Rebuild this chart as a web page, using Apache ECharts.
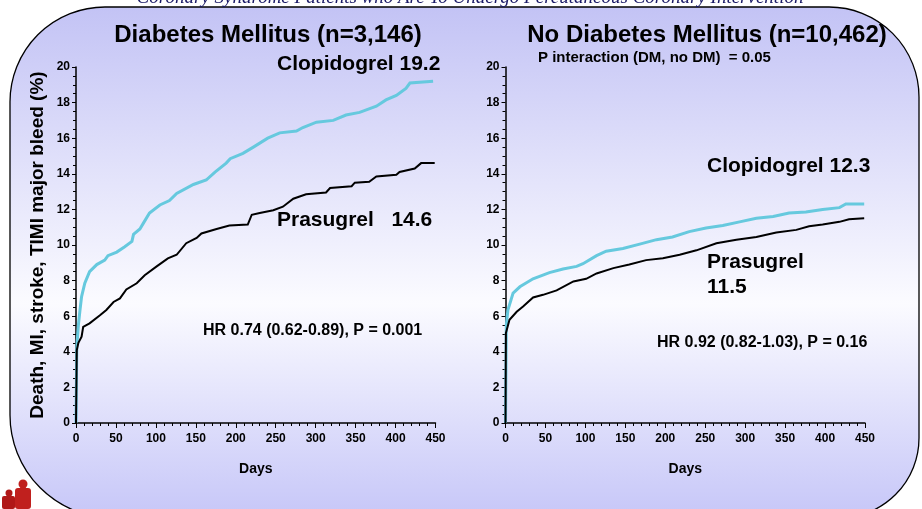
<!DOCTYPE html>
<html>
<head>
<meta charset="utf-8">
<script src="https://cdn.jsdelivr.net/npm/echarts@6/dist/echarts.min.js"></script>
<style>
  html, body { margin: 0; padding: 0; background: #ffffff; }
  #chart { width: 922px; height: 509px; }
</style>
</head>
<body>
<div id="chart"></div>
<script>
// Kaplan-Meier curves: death, MI, stroke, TIMI major bleed (%) by day
const dmClopDays = [0, 1, 3, 5, 7, 11, 17, 26, 36, 40, 51, 61, 70, 72, 80, 84, 92, 105, 117, 126, 147, 163, 174, 188, 193, 209, 222, 240, 255, 276, 284, 301, 322, 338, 355, 376, 388, 401, 413, 418, 447];
const dmClopVals = [0, 4.3, 5.5, 6.35, 7.1, 7.85, 8.5, 8.9, 9.15, 9.4, 9.6, 9.9, 10.2, 10.6, 10.9, 11.2, 11.8, 12.25, 12.5, 12.9, 13.4, 13.65, 14.1, 14.6, 14.85, 15.15, 15.5, 16.0, 16.3, 16.4, 16.6, 16.9, 17.0, 17.3, 17.45, 17.8, 18.15, 18.4, 18.8, 19.1, 19.2];

const dmPrasDays = [0, 1, 3, 7, 9, 17, 30, 38, 47, 55, 63, 76, 86, 101, 115, 126, 138, 151, 157, 176, 192, 215, 220, 230, 247, 259, 272, 288, 313, 318, 345, 349, 367, 376, 401, 405, 424, 432, 449];
const dmPrasVals = [0, 4.1, 4.5, 4.85, 5.4, 5.6, 6.05, 6.35, 6.8, 7.0, 7.5, 7.85, 8.3, 8.8, 9.25, 9.45, 10.1, 10.4, 10.65, 10.9, 11.1, 11.15, 11.7, 11.8, 11.95, 12.15, 12.6, 12.85, 12.95, 13.2, 13.3, 13.5, 13.55, 13.85, 13.95, 14.1, 14.3, 14.6, 14.6];

const noDmClopDays = [0, 1, 3, 9.5, 18, 34.5, 55, 72, 89, 97, 114, 126, 147, 168, 189, 209, 230, 251, 272, 293, 314, 335, 355, 376, 397, 418, 426, 449];
const noDmClopVals = [0, 5.5, 6.35, 7.3, 7.65, 8.1, 8.45, 8.65, 8.8, 8.95, 9.4, 9.65, 9.8, 10.05, 10.3, 10.45, 10.75, 10.95, 11.1, 11.3, 11.5, 11.6, 11.8, 11.85, 12.0, 12.1, 12.3, 12.3];

const noDmPrasDays = [0, 0.5, 5, 14, 22, 34.5, 47, 64, 85, 101, 114, 135, 155, 176, 197, 218, 239, 264, 289, 314, 339, 364, 380, 397, 418, 430, 449];
const noDmPrasVals = [0, 5.05, 5.8, 6.25, 6.55, 7.05, 7.2, 7.45, 7.95, 8.1, 8.4, 8.7, 8.9, 9.15, 9.25, 9.45, 9.7, 10.1, 10.3, 10.45, 10.7, 10.85, 11.05, 11.15, 11.3, 11.45, 11.5];

const panelTitles = ['Diabetes Mellitus (n=3,146)', 'No Diabetes Mellitus (n=10,462)'];
const yAxisTitle = 'Death, MI, stroke, TIMI major bleed (%)';
const xAxisTitle = 'Days';

const zip = (xs, ys) => xs.map((x, i) => [x, ys[i]]);

const CLOP = '#66c9de';
const PRAS = '#000000';
const FONT = 'Liberation Sans, Arial, sans-serif';

const grids = [
  { left: 76, top: 67, width: 359.5, height: 356 },
  { left: 505.5, top: 67, width: 359.5, height: 356 }
];

function xAxisFor(i) {
  return {
    gridIndex: i, type: 'value', min: 0, max: 450, interval: 50,
    name: xAxisTitle, nameLocation: 'middle', nameGap: 39,
    nameTextStyle: { fontFamily: FONT, fontWeight: 'bold', fontSize: 14, color: '#000' },
    axisLine: { lineStyle: { color: '#000', width: 1.5 } },
    axisTick: { inside: false, length: 5, lineStyle: { color: '#000', width: 1 } },
    minorTick: { show: true, splitNumber: 5, length: 3, lineStyle: { color: '#000', width: 1 } },
    splitLine: { show: false },
    axisLabel: { fontFamily: FONT, fontWeight: 'bold', fontSize: 12, color: '#000', margin: 10 }
  };
}
function yAxisFor(i) {
  return {
    gridIndex: i, type: 'value', min: 0, max: 20, interval: 2,
    name: i === 0 ? yAxisTitle : '', nameLocation: 'middle', nameGap: 29,
    nameTextStyle: { fontFamily: FONT, fontWeight: 'bold', fontSize: 19, color: '#000' },
    axisLine: { lineStyle: { color: '#000', width: 1.5 } },
    axisTick: { inside: false, length: 4, lineStyle: { color: '#000', width: 1 } },
    minorTick: { show: true, splitNumber: 4, length: 3, lineStyle: { color: '#000', width: 1 } },
    splitLine: { show: false },
    axisLabel: { fontFamily: FONT, fontWeight: 'bold', fontSize: 12, color: '#000', margin: 6 }
  };
}

function curve(i, name, data, color, width) {
  return {
    type: 'line', name: name, xAxisIndex: i, yAxisIndex: i,
    data: data, showSymbol: false, symbol: 'none',
    lineStyle: { color: color, width: width, join: 'miter' }, z: color === PRAS ? 4 : 3,
    animation: false
  };
}

function label(text, x, y, size, align, extra) {
  return Object.assign({
    type: 'text', x: x, y: y, z: 20,
    style: {
      text: text, fill: '#000', font: 'bold ' + size + 'px ' + FONT,
      textAlign: align || 'left', textVerticalAlign: 'middle'
    }
  }, extra || {});
}

const chart = echarts.init(document.getElementById('chart'), null, { renderer: 'canvas' });

chart.setOption({
  animation: false,
  backgroundColor: '#ffffff',
  grid: grids,
  xAxis: [xAxisFor(0), xAxisFor(1)],
  yAxis: [yAxisFor(0), yAxisFor(1)],
  series: [
    curve(0, 'Clopidogrel', zip(dmClopDays, dmClopVals), CLOP, 3),
    curve(0, 'Prasugrel', zip(dmPrasDays, dmPrasVals), PRAS, 2),
    curve(1, 'Clopidogrel', zip(noDmClopDays, noDmClopVals), CLOP, 3),
    curve(1, 'Prasugrel', zip(noDmPrasDays, noDmPrasVals), PRAS, 2)
  ],
  graphic: [
    // rounded slide panel with lavender gradient
    {
      type: 'rect', z: -100, silent: true,
      shape: { x: 10, y: 7, width: 909, height: 511, r: [95, 90, 80, 103] },
      style: {
        fill: new echarts.graphic.LinearGradient(0, 0, 0, 1, [
          { offset: 0, color: '#c3c3f5' },
          { offset: 0.58, color: '#fbfbff' },
          { offset: 1, color: '#c6c6f8' }
        ]),
        stroke: '#000', lineWidth: 1.3
      }
    },
    // cropped heading above the panel
    {
      type: 'text', x: 470, y: 7, z: 20,
      style: {
        text: 'Coronary Syndrome Patients who Are To Undergo Percutaneous Coronary Intervention',
        fill: '#1a1a66', font: 'italic 19px Liberation Serif, Times New Roman, serif',
        textAlign: 'center', textVerticalAlign: 'bottom'
      }
    },
    label(panelTitles[0], 268, 35, 24, 'center'),
    label(panelTitles[1], 707, 35, 24, 'center'),
    label('Clopidogrel 19.2', 277, 64, 21, 'left'),
    label('Prasugrel   14.6', 277, 220, 21, 'left'),
    label('HR 0.74 (0.62-0.89), P = 0.001', 203, 331, 16, 'left'),
    label('P interaction (DM, no DM)  = 0.05', 538, 58, 15, 'left'),
    label('Clopidogrel 12.3', 707, 166, 21, 'left'),
    label('Prasugrel', 707, 262, 21, 'left'),
    label('11.5', 707, 287, 21, 'left'),
    label('HR 0.92 (0.82-1.03), P = 0.16', 657, 343, 16, 'left'),
    // small society emblem at the lower left
    {
      type: 'group', z: 30, children: [
        { type: 'circle', shape: { cx: 23, cy: 484, r: 4.5 }, style: { fill: '#c0201e' } },
        { type: 'rect', shape: { x: 15, y: 488, width: 16, height: 21, r: 3 }, style: { fill: '#c0201e' } },
        { type: 'circle', shape: { cx: 9, cy: 493, r: 3.5 }, style: { fill: '#b01818' } },
        { type: 'rect', shape: { x: 2, y: 496, width: 13, height: 13, r: 2 }, style: { fill: '#b01818' } }
      ]
    }
  ]
});
</script>
</body>
</html>
